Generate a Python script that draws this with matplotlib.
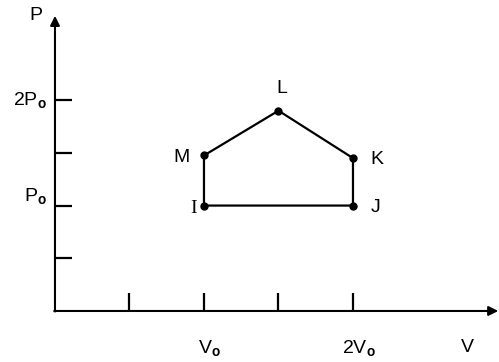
import matplotlib
matplotlib.use("Agg")
import matplotlib.pyplot as plt

plt.rcParams['font.family'] = ['Liberation Sans', 'DejaVu Sans']
plt.rcParams['mathtext.fontset'] = 'custom'
plt.rcParams['mathtext.rm'] = 'Liberation Sans'
plt.rcParams['mathtext.it'] = 'Liberation Sans'
plt.rcParams['mathtext.bf'] = 'Liberation Sans:bold'

# cycle points (V in tick units, P in tick units)
names = ['I', 'M', 'L', 'K', 'J']
vol = [2, 2, 3, 4, 4]
pres = [2, 2.95, 3.8, 2.9, 2]
label_off = [(-0.14, -0.05), (-0.3, -0.03), (0.05, 0.42), (0.32, -0.03), (0.3, -0.03)]

xticks = [1, 2, 3, 4]
yticks = [1, 2, 3, 4]
xticklabels = {2: r'V$_\mathbf{o}$', 4: r'2V$_\mathbf{o}$'}
yticklabels = {2: r'P$_\mathbf{o}$', 4: r'2P$_\mathbf{o}$'}

FS = 14

fig = plt.figure(figsize=(4.99, 3.62), dpi=100)
ax = fig.add_axes([0, 0, 1, 1])
ax.set_xlim(-0.738, 5.96)
ax.set_ylim(-0.968, 5.90)
ax.axis('off')

# axes with arrows
ax.annotate('', xy=(5.95, 0), xytext=(-0.01, 0),
            arrowprops=dict(arrowstyle='-|>', lw=1.5, color='black',
                            mutation_scale=14, shrinkA=0, shrinkB=0))
ax.annotate('', xy=(0, 5.6), xytext=(0, -0.01),
            arrowprops=dict(arrowstyle='-|>', lw=1.5, color='black',
                            mutation_scale=14, shrinkA=0, shrinkB=0))

for t in xticks:
    ax.plot([t, t], [0, 0.34], color='black', lw=1.6, solid_capstyle='butt')
for t in yticks:
    ax.plot([0, 0.23], [t, t], color='black', lw=1.6, solid_capstyle='butt')

# cycle
cv = vol + [vol[0]]
cp = pres + [pres[0]]
ax.plot(cv, cp, color='black', lw=1.6)
ax.plot(vol, pres, 'o', color='black', ms=5)

for n, v, p, (dx, dy) in zip(names, vol, pres, label_off):
    fam = ['Liberation Serif'] if n == 'I' else ['Liberation Sans']
    ax.text(v + dx, p + dy, n, ha='center', va='center', fontsize=FS, family=fam)

for t, s in xticklabels.items():
    ax.text(t + 0.08, -0.70, s, ha='center', va='center', fontsize=FS)
ax.text(5.53, -0.70, 'V', ha='center', va='center', fontsize=FS)
for t, s in yticklabels.items():
    ax.text(-0.11, t + (0.18 if t == 2 else 0.0), s, ha='right', va='center', fontsize=FS)
ax.text(-0.255, 5.6, 'P', ha='center', va='center', fontsize=FS)

fig.savefig('out.png', dpi=100)
